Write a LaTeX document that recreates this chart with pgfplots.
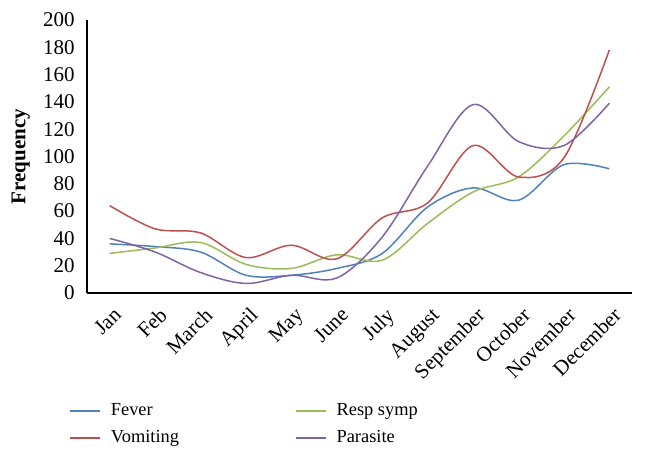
\documentclass[border=0pt]{standalone}
\usepackage{pgfplots}
\pgfplotsset{compat=1.18}
\usepackage{fontspec}
\setmainfont{Liberation Serif}

\definecolor{xlblue}{HTML}{4F81BD}
\definecolor{xlred}{HTML}{C0504D}
\definecolor{xlgreen}{HTML}{9BBB59}
\definecolor{xlpurple}{HTML}{8064A2}

\begin{document}
\begin{tikzpicture}
\path[use as bounding box] (-43.5pt,-84pt) rectangle (279.5pt,146.5pt);
\begin{axis}[
    at={(0,0)}, anchor=south west,
    scale only axis,
    width=272.5pt, height=136.5pt,
    xmin=-0.5, xmax=11.5,
    ymin=0, ymax=200,
    ytick={0,20,...,200},
    xtick={0,...,11},
    xticklabels={Jan,Feb,March,April,May,June,July,August,September,October,November,December},
    axis x line*=bottom, axis y line*=left,
    axis line style={black, line width=0.8pt, -},
    major tick length=0pt,
    /pgf/number format/assume math mode=true,
    yticklabel style={font=\fontsize{10.5}{12}\selectfont, inner sep=1pt, xshift=-5pt},
    xticklabel style={font=\fontsize{10.5}{12}\selectfont, rotate=45, anchor=north east, inner sep=1pt, yshift=-4.5pt, xshift=-2.5pt},
    ylabel={\textbf{Frequency}},
    ylabel style={font=\fontsize{10.5}{12}\selectfont, yshift=2pt},
    every axis plot/.append style={smooth, tension=0.55, line width=0.75pt, no markers},
    legend columns=2,
    legend cell align=left,
    legend style={at={(-12pt,-51pt)}, anchor=north west, draw=none, fill=none,
      font=\fontsize{9.2}{11}\selectfont, row sep=2pt,
      /tikz/every even column/.append style={column sep=56pt}},
    legend image code/.code={\draw[#1] (0pt,0pt) -- (15pt,0pt); \path (18pt,0pt);},
]
\addplot[xlblue] coordinates {(0,36) (1,34) (2,30) (3,13) (4,13) (5,18) (6,29) (7,63) (8,77) (9,68) (10,94) (11,91)};
\addplot[xlgreen] coordinates {(0,29) (1,33) (2,37) (3,21) (4,18) (5,28) (6,24) (7,51) (8,74) (9,85) (10,115) (11,151)};
\addplot[xlred] coordinates {(0,64) (1,47) (2,44) (3,26) (4,35) (5,25) (6,55) (7,66) (8,108) (9,85) (10,99) (11,178)};
\addplot[xlpurple] coordinates {(0,40) (1,30) (2,15) (3,7) (4,13) (5,11) (6,41) (7,93) (8,138) (9,111) (10,108) (11,139)};
\legend{Fever,Resp symp,Vomiting,Parasite}
\end{axis}
\end{tikzpicture}
\end{document}
